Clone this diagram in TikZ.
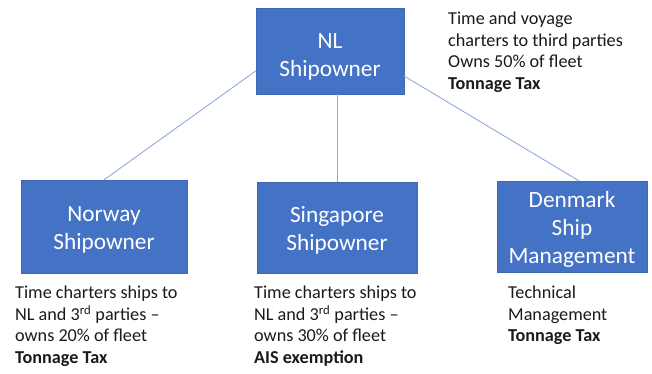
\documentclass[tikz,border=0pt]{standalone}
\usepackage{fontspec}
\setmainfont{Carlito}
\usetikzlibrary{calc}
\definecolor{boxblue}{HTML}{4472C4}
\definecolor{linkblue}{HTML}{8EAADB}
\definecolor{notegray}{HTML}{1A1A1A}
\tikzset{
  entity/.style={rectangle, fill=boxblue, draw=boxblue!90!black, line width=0.3pt,
    inner sep=0pt},
  entitytext/.style={text=white, align=center, inner sep=0pt,
    font=\fontsize{23.3}{28}\selectfont},
  link/.style={draw=linkblue, line width=0.9pt},
  note/.style={anchor=north west, align=left, inner sep=0pt, text=notegray,
    font=\fontsize{18.2}{21.5}\selectfont}
}
\begin{document}
\begin{tikzpicture}[x=1pt, y=-1pt]
  \useasboundingbox (0,0) rectangle (652,373);

  % company boxes
  \node[entity, minimum width=148pt, minimum height=86pt] (nl) at (330,51) {};
  \node[entity, minimum width=166pt, minimum height=93pt] (no) at (104,226.5) {};
  \node[entity, minimum width=160pt, minimum height=91pt] (sg) at (337,227.5) {};
  \node[entity, minimum width=150pt, minimum height=91pt] (dk) at (572,226.5) {};

  % company names
  \node[entitytext] (nltext) at ($(nl.center)+(0,6)$) {NL\\Shipowner};
  \node[entitytext] (notext) at ($(no.center)+(0,3)$) {Norway\\Shipowner};
  \node[entitytext] (sgtext) at ($(sg.center)+(0,2.5)$) {Singapore\\Shipowner};
  \node[entitytext] (dktext) at ($(dk.center)+(0,3)$) {Denmark\\Ship\\Management};

  % ownership links
  \draw[link] ($(nl.south west)!0.27!(nl.north west)$) -- (no.north);
  \draw[link] (nl.south -| sg.north) -- (sg.north);
  \draw[link] ($(nl.south east)!0.21!(nl.north east)$) -- ($(dk.north)+(7,0)$);

  % notes on each company
  \node[note] (nlnote) at (448,12) {Time and voyage\\charters to third parties\\Owns 50\% of fleet\\\textbf{Tonnage Tax}};
  \node[note] (nonote) at (15,286) {Time charters ships to\\NL and 3\textsuperscript{rd} parties –\\owns 20\% of fleet\\\textbf{Tonnage Tax}};
  \node[note] (sgnote) at (254,286) {Time charters ships to\\NL and 3\textsuperscript{rd} parties –\\owns 30\% of fleet\\\textbf{AIS exemption}};
  \node[note] (dknote) at (508,286) {Technical\\Management\\\textbf{Tonnage Tax}};
\end{tikzpicture}
\end{document}
